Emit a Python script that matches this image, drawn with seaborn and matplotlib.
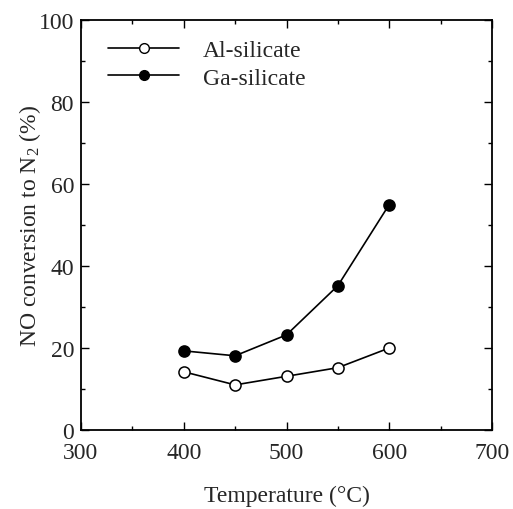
import matplotlib
matplotlib.use("Agg")
import matplotlib.pyplot as plt
import seaborn as sns
import pandas as pd
from matplotlib.ticker import MultipleLocator
from matplotlib.lines import Line2D

temperature = [400, 450, 500, 550, 600]
al_silicate = [14.2, 11.0, 13.1, 15.2, 20.0]
ga_silicate = [19.3, 18.1, 23.2, 35.2, 55.0]
series_names = ["Al-silicate", "Ga-silicate"]

df = pd.DataFrame({
    "T": temperature * 2,
    "conv": al_silicate + ga_silicate,
    "cat": [series_names[0]] * len(temperature) + [series_names[1]] * len(temperature),
})

sns.set_theme(style="ticks")
plt.rcParams["font.family"] = ["Liberation Serif", "DejaVu Serif"]
plt.rcParams["mathtext.fontset"] = "custom"
plt.rcParams["mathtext.rm"] = "Liberation Serif"
plt.rcParams["mathtext.it"] = "Liberation Serif:italic"

FS = 17

fig = plt.figure(figsize=(5.13, 5.10), dpi=100)
ax = fig.add_axes([81 / 513, 1 - 431 / 510, (492 - 81) / 513, (431 - 21) / 510])

sns.lineplot(data=df, x="T", y="conv", hue="cat", style="cat",
             palette=["black", "black"], markers=["o", "o"], dashes=False,
             linewidth=1.2, markersize=8, ax=ax, legend=False)

# Open markers for Al-silicate, filled for Ga-silicate
for line, face in zip(ax.lines, ["white", "black"]):
    line.set_markerfacecolor(face)
    line.set_markeredgecolor("black")
    line.set_markeredgewidth(1.1)

ax.set_xlim(300, 700)
ax.set_ylim(0, 100)
ax.xaxis.set_major_locator(MultipleLocator(100))
ax.xaxis.set_minor_locator(MultipleLocator(50))
ax.yaxis.set_major_locator(MultipleLocator(20))
ax.yaxis.set_minor_locator(MultipleLocator(10))
ax.tick_params(which="both", direction="in", top=True, right=True,
               labelsize=FS, width=1.0, color="black")
ax.tick_params(axis="x", which="major", length=6, pad=9)
ax.tick_params(axis="y", which="major", length=6, pad=5)
ax.tick_params(which="minor", length=3)
for s in ax.spines.values():
    s.set_linewidth(1.3)
    s.set_color("black")

ax.set_xlabel("Temperature (°C)", fontsize=FS, labelpad=15)
ax.set_ylabel("NO conversion to N$_2$ (%)", fontsize=FS, labelpad=-3)

handles = [
    Line2D([], [], color="black", lw=1.2, marker="o", markersize=7,
           markerfacecolor=face, markeredgecolor="black")
    for face in ["white", "black"]
]
ax.legend(handles, series_names, loc="upper left", frameon=False,
          fontsize=FS, handlelength=3.0, handletextpad=1.0,
          labelspacing=0.25, borderpad=0, borderaxespad=0,
          bbox_to_anchor=(0.066, 0.952))

fig.savefig("out.png", dpi=100)
